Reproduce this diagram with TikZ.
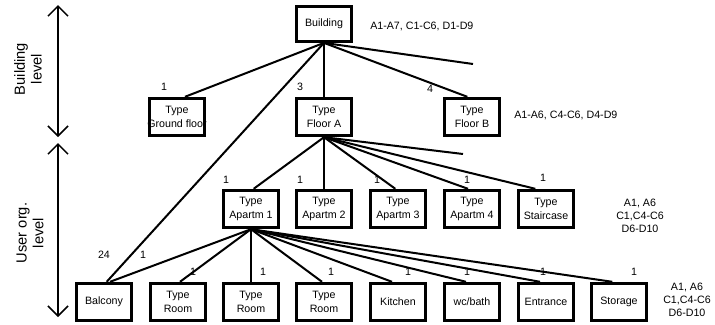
\documentclass[tikz,border=0pt]{standalone}
\usepackage{fontspec}
\setmainfont{Liberation Sans}
\usetikzlibrary{arrows.meta}

\begin{document}
\begin{tikzpicture}[x=0.75pt,y=-0.75pt,
    box/.style={draw,line width=2.3pt,minimum width=41.5pt,minimum height=28pt,
        inner sep=1pt,align=center,font=\fontsize{8}{10}\selectfont},
    link/.style={line width=1.5pt},
    num/.style={inner sep=0pt,font=\fontsize{8}{9}\selectfont},
    note/.style={inner sep=0pt,align=center,font=\fontsize{8}{9.8}\selectfont},
    level/.style={align=center,rotate=90,font=\fontsize{11}{12.5}\selectfont},
    levelarrow/.style={line width=1.1pt,{Straight Barb[length=7.5pt,width=15pt]}-{Straight Barb[length=7.5pt,width=15pt]}}]
    \useasboundingbox (0,0) rectangle (715,325);

    % levels
    \coordinate (bltop) at (58,5);
    \coordinate (blbot) at (58,137);
    \coordinate (ultop) at (58,143);
    \coordinate (ulbot) at (58,317);
    \draw[levelarrow] (bltop) -- (blbot);
    \draw[levelarrow] (ultop) -- (ulbot);
    \node[level] (blevel) at (28,69) {Building\\level};
    \node[level] (ulevel) at (30,233) {User org.\\level};

    % building level
    \node[box,minimum height=26pt] (bld) at (324,24) {Building};
    \node[box] (gf) at (177,117) {Type\\\makebox[38pt]{Ground floor}};
    \node[box] (fla) at (324,117) {Type\\Floor A};
    \node[box] (flb) at (472,117) {Type\\Floor B};

    % apartments
    \node[box] (ap1) at (251,209) {Type\\Apartm 1};
    \node[box] (ap2) at (324,209) {Type\\Apartm 2};
    \node[box] (ap3) at (398,209) {Type\\Apartm 3};
    \node[box] (ap4) at (472,209) {Type\\Apartm 4};
    \node[box] (stair) at (546,209) {Type\\Staircase};

    % rooms
    \node[box] (balc) at (104,302) {Balcony};
    \node[box] (room1) at (178,302) {Type\\Room};
    \node[box] (room2) at (251,302) {Type\\Room};
    \node[box] (room3) at (324,302) {Type\\Room};
    \node[box] (kit) at (398,302) {Kitchen};
    \node[box] (wc) at (472,302) {wc/bath};
    \node[box] (entr) at (546,302) {Entrance};
    \node[box] (stor) at (619,302) {Storage};

    % connectors
    \coordinate (bldend) at (473,64);
    \coordinate (flaend) at (463,154);
    \draw[link] (bld.south) -- ([xshift=6pt]gf.north);
    \draw[link] (bld.south) -- (fla.north);
    \draw[link] (bld.south) -- ([xshift=-3.5pt]flb.north);
    \draw[link] (bld.south) -- (bldend);
    \draw[link] (bld.south) -- ([xshift=2pt]balc.north);

    \draw[link] (fla.south) -- ([xshift=2pt]ap1.north);
    \draw[link] (fla.south) -- (ap2.north);
    \draw[link] (fla.south) -- ([xshift=-2pt]ap3.north);
    \draw[link] (fla.south) -- ([xshift=-3pt]ap4.north);
    \draw[link] (fla.south) -- ([xshift=-8pt]stair.north);
    \draw[link] (fla.south) -- (flaend);

    \draw[link] (ap1.south) -- ([xshift=4.5pt]balc.north);
    \draw[link] (ap1.south) -- ([xshift=1.5pt]room1.north);
    \draw[link] (ap1.south) -- (room2.north);
    \draw[link] (ap1.south) -- ([xshift=-1.5pt]room3.north);
    \draw[link] (ap1.south) -- ([xshift=-4.5pt]kit.north);
    \draw[link] (ap1.south) -- ([xshift=-4.5pt]wc.north);
    \draw[link] (ap1.south) -- ([xshift=-4.5pt]entr.north);
    \draw[link] (ap1.south) -- ([xshift=-5pt]stor.north);

    % numbers
    \node[num] (ngf) at (164,87) {1};
    \node[num] (nfla) at (300,87) {3};
    \node[num] (nflb) at (430,89) {4};
    \node[num] (nap1) at (226,180) {1};
    \node[num] (nap2) at (300,180) {1};
    \node[num] (nap3) at (377,180) {1};
    \node[num] (nap4) at (467,180) {1};
    \node[num] (nstair) at (543,178) {1};
    \node[num] (nbalcb) at (104,255) {24};
    \node[num] (nbalca) at (143,255) {1};
    \node[num] (nroom1) at (193,272) {1};
    \node[num] (nroom2) at (263,272) {1};
    \node[num] (nroom3) at (331,272) {1};
    \node[num] (nkit) at (408,272) {1};
    \node[num] (nwc) at (467,272) {1};
    \node[num] (nentr) at (543,272) {1};
    \node[num] (nstor) at (634,272) {1};

    % notes
    \node[note,anchor=west] (bldnote) at (370,26) {A1-A7, C1-C6, D1-D9};
    \node[note,anchor=west] (flnote) at (514,115) {A1-A6, C4-C6, D4-D9};
    \node[note] (apnote) at (640,216) {A1, A6\\C1,C4-C6\\D6-D10};
    \node[note] (roomnote) at (687,300) {A1, A6\\C1,C4-C6\\D6-D10};
\end{tikzpicture}
\end{document}
